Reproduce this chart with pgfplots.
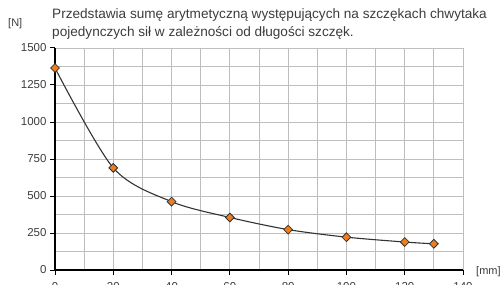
\documentclass[border=0pt]{standalone}
\usepackage{pgfplots}
\pgfplotsset{compat=1.18}
\usepackage{fontspec}
\setmainfont{Liberation Sans}
\definecolor{gridc}{HTML}{BEBEBE}
\definecolor{txt}{HTML}{3C3C3C}
\definecolor{mk}{HTML}{F07D1C}
\definecolor{darkline}{HTML}{333333}
\begin{document}
\begin{tikzpicture}
\useasboundingbox (0pt,0pt) rectangle (502pt,284pt);
\clip (0pt,0pt) rectangle (502pt,284pt);
\begin{axis}[at={(55pt,14pt)}, anchor=south west, scale only axis, width=408pt, height=222pt,
 xmin=0,xmax=140,ymin=0,ymax=1500,
 xtick={0,20,...,140}, ytick={0,250,...,1500}, minor x tick num=1, minor y tick num=1,
 grid=both, major grid style={gridc, line width=0.9pt}, minor grid style={gridc,line width=0.9pt},
 axis x line*=bottom, axis y line*=left, axis line style={black, line width=1.6pt, -},
 tick align=outside, major tick length=5pt, minor tick length=0pt,
 tick style={black, line width=1pt},
 tick label style={font=\fontsize{11.5}{13}\selectfont, text=txt},
 xticklabel style={yshift=-4pt},
 /pgf/number format/assume math mode=true,
 /pgf/number format/set thousands separator={},
 clip=false,
]
\addplot[color=darkline, line width=1.1pt, smooth, mark=square*, mark size=3.1pt,
  mark options={rotate=45, fill=mk, draw=darkline, line width=0.8pt}] coordinates {
(0,1365) (20,690) (40,462) (60,355) (80,273) (100,222) (120,189) (130,177)
};
\end{axis}
\node[anchor=base west, inner sep=0, text=txt, font=\fontsize{13.6}{15}\selectfont] at (52pt,265pt) {Przedstawia sumę arytmetyczną występujących na szczękach chwytaka};
\node[anchor=base west, inner sep=0, text=txt, font=\fontsize{13.6}{15}\selectfont] at (52pt,247pt) {pojedynczych sił w zależności od długości szczęk.};
\node[anchor=base west, inner sep=0, text=txt, font=\fontsize{11}{12}\selectfont] at (8pt,257pt) {[N]};
\node[anchor=base west, inner sep=0, text=txt, font=\fontsize{11}{12}\selectfont] at (476pt,10pt) {[mm]};
\end{tikzpicture}
\end{document}
